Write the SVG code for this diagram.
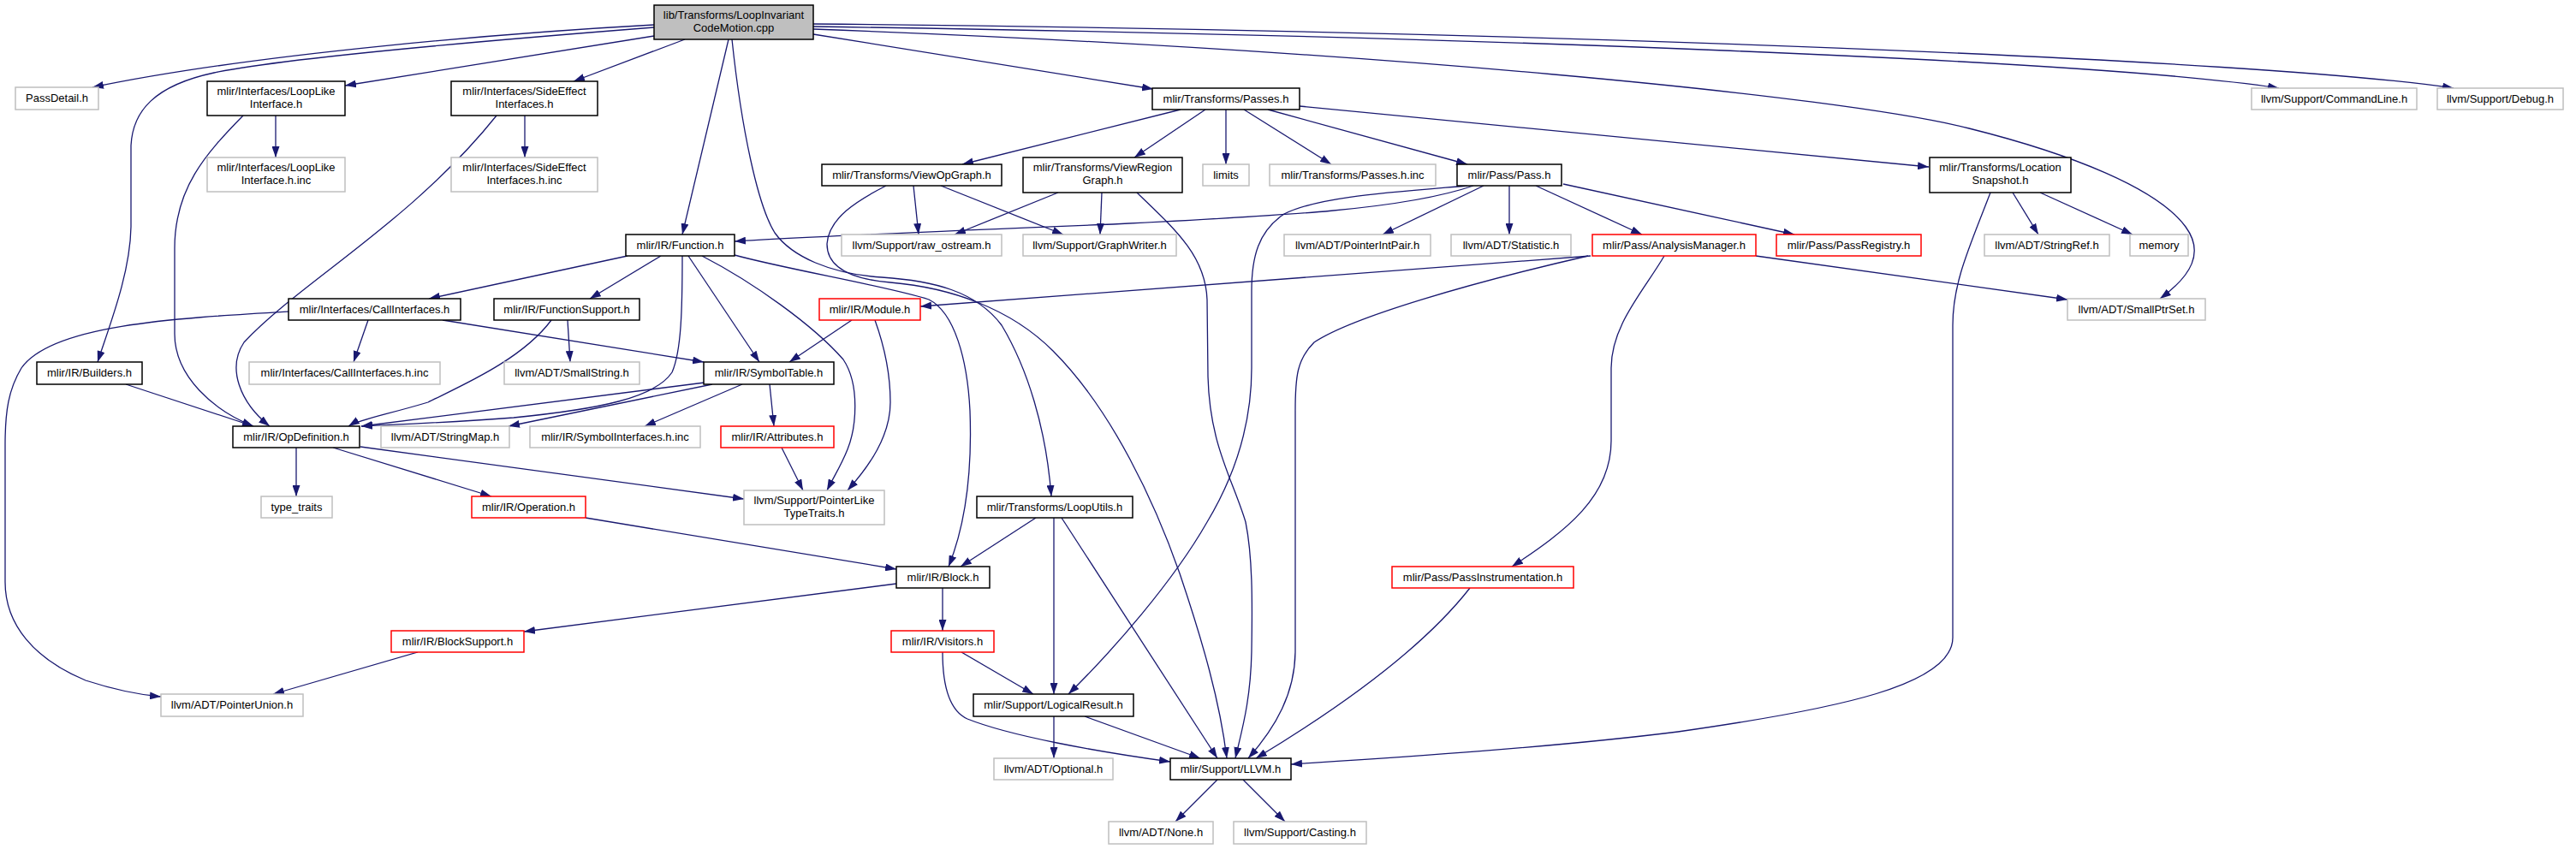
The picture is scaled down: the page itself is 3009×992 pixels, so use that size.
<svg xmlns="http://www.w3.org/2000/svg" width="3009" height="992" viewBox="0 0 3009 992">
<style>
rect.n{fill:#fff;stroke:#000;stroke-width:1.5}
rect.g{fill:#fff;stroke:#bfbfbf;stroke-width:1.5}
rect.r{fill:#fff;stroke:#ff0000;stroke-width:1.5}
rect.root{fill:#bfbfbf;stroke:#000;stroke-width:1.5}
text{font-family:"Liberation Sans",Arial,Helvetica,sans-serif;font-size:13px;fill:#000;text-anchor:middle}
#edges path{fill:none;stroke:#191970;stroke-width:1.3;marker-end:url(#ah)}
</style>
<defs>
<marker id="ah" markerUnits="userSpaceOnUse" markerWidth="13" markerHeight="9" refX="13" refY="4.5" orient="auto">
<path d="M0,0 L13,4.5 L0,9 z" fill="#191970"/>
</marker>
</defs>
<rect x="0" y="0" width="3009" height="992" fill="#fff"/>
<g id="edges">
<path d="M764,29 C600,38 300,62 108,102"/>
<path d="M764,32 C560,48 330,68 250,85 C180,100 155,130 153,170 L153,265 C152,320 128,380 114,423"/>
<path d="M764,42 L403,100"/>
<path d="M800,46 L670,95"/>
<path d="M851,46 L797,274"/>
<path d="M855,46 C866,150 885,240 905,272 C925,300 970,320 1030,324 C1090,328 1140,340 1170,380 C1200,430 1222,500 1228,580"/>
<path d="M950,40 L1347,104"/>
<path d="M950,31 C1700,42 2450,70 2662,103"/>
<path d="M950,28 C1800,36 2650,70 2866,103"/>
<path d="M950,34 C1600,58 2150,112 2300,150 C2420,180 2520,220 2553,265 C2575,295 2560,322 2523,349"/>
<path d="M1379,128 L1124,192"/>
<path d="M1408,128 L1325,184"/>
<path d="M1432,128 L1432,192"/>
<path d="M1453,128 L1555,192"/>
<path d="M1481,128 L1714,192"/>
<path d="M1518,124 L2253,195"/>
<path d="M1067,217 L1073,274"/>
<path d="M1099,217 L1242,274"/>
<path d="M1035,217 C1000,235 968,255 966,285 C966,312 992,326 1040,330 C1110,336 1180,360 1230,410 C1300,480 1350,590 1378,670 C1405,750 1425,820 1433,886"/>
<path d="M1236,225 L1115,274"/>
<path d="M1287,225 L1285,274"/>
<path d="M1328,225 C1375,270 1408,300 1410,350 L1411,440 C1413,520 1440,560 1455,610 C1463,650 1463,700 1462,760 C1461,820 1450,855 1443,886"/>
<path d="M1721,217 C1640,245 1500,252 1300,262 C1100,270 950,276 858,282"/>
<path d="M1714,217 C1620,225 1540,230 1500,250 C1470,270 1462,300 1462,340 L1462,430 C1462,500 1440,560 1410,610 C1370,680 1300,760 1248,811"/>
<path d="M1733,217 L1615,274"/>
<path d="M1763,217 L1763,274"/>
<path d="M1794,217 L1918,274"/>
<path d="M1826,215 L2096,274"/>
<path d="M2325,225 C2300,290 2281,330 2281,380 L2281,745 C2281,800 2150,828 1960,855 C1800,875 1600,887 1508,893"/>
<path d="M2351,225 L2381,274"/>
<path d="M2383,225 L2491,274"/>
<path d="M1858,299 L1075,358"/>
<path d="M1855,299 C1720,330 1580,370 1535,400 C1515,420 1513,440 1513,480 L1513,760 C1513,810 1490,850 1458,886"/>
<path d="M1944,299 C1920,340 1882,380 1882,430 L1882,515 C1882,580 1830,620 1766,662"/>
<path d="M2051,299 L2415,350"/>
<path d="M733,299 L501,349"/>
<path d="M772,299 L689,349"/>
<path d="M804,299 L887,423"/>
<path d="M797,299 C797,360 796,410 785,435 C765,465 700,478 600,488 C520,494 460,496 422,498"/>
<path d="M820,299 C880,330 950,380 985,420 C1005,450 1000,500 990,525 C982,545 975,555 966,573"/>
<path d="M858,298 C920,315 1040,335 1085,350 C1115,365 1130,420 1133,480 C1136,560 1125,620 1108,662"/>
<path d="M430,374 L413,423"/>
<path d="M517,374 L822,423"/>
<path d="M337,364 C200,372 60,380 25,430 C10,455 6,480 6,520 L6,680 C6,730 40,770 100,795 C140,808 165,812 188,814"/>
<path d="M644,374 C610,420 540,450 500,470 C450,485 420,490 407,498"/>
<path d="M663,374 L666,423"/>
<path d="M995,374 L922,423"/>
<path d="M1022,374 C1035,410 1040,440 1040,470 C1040,510 1015,545 990,573"/>
<path d="M322,135 L322,184"/>
<path d="M284,135 C240,180 204,220 204,290 L204,390 C204,440 250,480 296,498"/>
<path d="M613,135 L613,184"/>
<path d="M580,135 C480,260 350,330 285,400 C265,430 280,470 315,498"/>
<path d="M147,449 L296,498"/>
<path d="M823,447 L422,498"/>
<path d="M832,449 L594,498"/>
<path d="M867,449 L753,498"/>
<path d="M899,449 L904,498"/>
<path d="M913,523 L938,573"/>
<path d="M346,523 L346,580"/>
<path d="M389,523 L574,580"/>
<path d="M421,522 L869,583"/>
<path d="M684,605 L1047,665"/>
<path d="M1047,682 L612,738"/>
<path d="M1101,687 L1101,737"/>
<path d="M488,762 L319,811"/>
<path d="M1210,605 L1122,662"/>
<path d="M1231,605 L1231,811"/>
<path d="M1240,605 L1422,886"/>
<path d="M1123,762 L1207,811"/>
<path d="M1101,762 C1101,800 1108,830 1130,840 C1180,860 1280,878 1367,890"/>
<path d="M1231,837 L1231,886"/>
<path d="M1267,837 L1402,886"/>
<path d="M1717,687 C1660,760 1560,830 1467,886"/>
<path d="M1422,911 L1373,960"/>
<path d="M1452,911 L1501,960"/>
</g>
<g id="n_root"><rect class="root" x="764" y="6" width="186" height="40"/><text x="857" y="21.5">lib/Transforms/LoopInvariant</text><text x="857" y="37">CodeMotion.cpp</text></g>
<g id="n_passdetail"><rect class="g" x="18" y="102" width="97" height="26"/><text x="66.5" y="119">PassDetail.h</text></g>
<g id="n_looplike"><rect class="n" x="242" y="95" width="161" height="40"/><text x="322.5" y="110.5">mlir/Interfaces/LoopLike</text><text x="322.5" y="126">Interface.h</text></g>
<g id="n_sideeffect"><rect class="n" x="527" y="95" width="171" height="40"/><text x="612.5" y="110.5">mlir/Interfaces/SideEffect</text><text x="612.5" y="126">Interfaces.h</text></g>
<g id="n_passes"><rect class="n" x="1346" y="103" width="172" height="25"/><text x="1432" y="119.5">mlir/Transforms/Passes.h</text></g>
<g id="n_commandline"><rect class="g" x="2630" y="103" width="193" height="25"/><text x="2726.5" y="119.5">llvm/Support/CommandLine.h</text></g>
<g id="n_debug"><rect class="g" x="2847" y="103" width="147" height="25"/><text x="2920.5" y="119.5">llvm/Support/Debug.h</text></g>
<g id="n_looplikeinc"><rect class="g" x="242" y="184" width="161" height="40"/><text x="322.5" y="199.5">mlir/Interfaces/LoopLike</text><text x="322.5" y="215">Interface.h.inc</text></g>
<g id="n_sideeffectinc"><rect class="g" x="527" y="184" width="171" height="40"/><text x="612.5" y="199.5">mlir/Interfaces/SideEffect</text><text x="612.5" y="215">Interfaces.h.inc</text></g>
<g id="n_viewopgraph"><rect class="n" x="960" y="192" width="210" height="25"/><text x="1065" y="208.5">mlir/Transforms/ViewOpGraph.h</text></g>
<g id="n_viewregiongraph"><rect class="n" x="1195" y="184" width="186" height="41"/><text x="1288" y="199.5">mlir/Transforms/ViewRegion</text><text x="1288" y="215">Graph.h</text></g>
<g id="n_limits"><rect class="g" x="1405" y="192" width="54" height="25"/><text x="1432" y="208.5">limits</text></g>
<g id="n_passesinc"><rect class="g" x="1483" y="192" width="194" height="25"/><text x="1580" y="208.5">mlir/Transforms/Passes.h.inc</text></g>
<g id="n_pass"><rect class="n" x="1702" y="192" width="122" height="25"/><text x="1763" y="208.5">mlir/Pass/Pass.h</text></g>
<g id="n_locationsnapshot"><rect class="n" x="2254" y="184" width="165" height="41"/><text x="2336.5" y="199.5">mlir/Transforms/Location</text><text x="2336.5" y="215">Snapshot.h</text></g>
<g id="n_function"><rect class="n" x="731" y="274" width="127" height="25"/><text x="794.5" y="290.5">mlir/IR/Function.h</text></g>
<g id="n_rawostream"><rect class="g" x="983" y="274" width="187" height="25"/><text x="1076.5" y="290.5">llvm/Support/raw_ostream.h</text></g>
<g id="n_graphwriter"><rect class="g" x="1195" y="274" width="179" height="25"/><text x="1284.5" y="290.5">llvm/Support/GraphWriter.h</text></g>
<g id="n_pointerintpair"><rect class="g" x="1500" y="274" width="171" height="25"/><text x="1585.5" y="290.5">llvm/ADT/PointerIntPair.h</text></g>
<g id="n_statistic"><rect class="g" x="1695" y="274" width="140" height="25"/><text x="1765" y="290.5">llvm/ADT/Statistic.h</text></g>
<g id="n_analysismanager"><rect class="r" x="1860" y="274" width="191" height="25"/><text x="1955.5" y="290.5">mlir/Pass/AnalysisManager.h</text></g>
<g id="n_passregistry"><rect class="r" x="2075" y="274" width="169" height="25"/><text x="2159.5" y="290.5">mlir/Pass/PassRegistry.h</text></g>
<g id="n_stringref"><rect class="g" x="2318" y="274" width="146" height="25"/><text x="2391" y="290.5">llvm/ADT/StringRef.h</text></g>
<g id="n_memory"><rect class="g" x="2488" y="274" width="68" height="25"/><text x="2522" y="290.5">memory</text></g>
<g id="n_callinterfaces"><rect class="n" x="337" y="349" width="201" height="25"/><text x="437.5" y="365.5">mlir/Interfaces/CallInterfaces.h</text></g>
<g id="n_functionsupport"><rect class="n" x="577" y="349" width="170" height="25"/><text x="662" y="365.5">mlir/IR/FunctionSupport.h</text></g>
<g id="n_module"><rect class="r" x="957" y="349" width="118" height="25"/><text x="1016" y="365.5">mlir/IR/Module.h</text></g>
<g id="n_smallptrset"><rect class="g" x="2415" y="349" width="161" height="25"/><text x="2495.5" y="365.5">llvm/ADT/SmallPtrSet.h</text></g>
<g id="n_builders"><rect class="n" x="43" y="423" width="123" height="26"/><text x="104.5" y="440">mlir/IR/Builders.h</text></g>
<g id="n_callinterfacesinc"><rect class="g" x="291" y="423" width="223" height="26"/><text x="402.5" y="440">mlir/Interfaces/CallInterfaces.h.inc</text></g>
<g id="n_smallstring"><rect class="g" x="589" y="423" width="158" height="26"/><text x="668" y="440">llvm/ADT/SmallString.h</text></g>
<g id="n_symboltable"><rect class="n" x="822" y="423" width="152" height="26"/><text x="898" y="440">mlir/IR/SymbolTable.h</text></g>
<g id="n_opdefinition"><rect class="n" x="272" y="498" width="148" height="25"/><text x="346" y="514.5">mlir/IR/OpDefinition.h</text></g>
<g id="n_stringmap"><rect class="g" x="445" y="498" width="150" height="25"/><text x="520" y="514.5">llvm/ADT/StringMap.h</text></g>
<g id="n_symbolinterfacesinc"><rect class="g" x="619" y="498" width="199" height="25"/><text x="718.5" y="514.5">mlir/IR/SymbolInterfaces.h.inc</text></g>
<g id="n_attributes"><rect class="r" x="842" y="498" width="132" height="25"/><text x="908" y="514.5">mlir/IR/Attributes.h</text></g>
<g id="n_typetraits"><rect class="g" x="305" y="580" width="83" height="25"/><text x="346.5" y="596.5">type_traits</text></g>
<g id="n_operation"><rect class="r" x="551" y="580" width="133" height="25"/><text x="617.5" y="596.5">mlir/IR/Operation.h</text></g>
<g id="n_pointerlike"><rect class="g" x="869" y="573" width="164" height="40"/><text x="951" y="588.5">llvm/Support/PointerLike</text><text x="951" y="604">TypeTraits.h</text></g>
<g id="n_looputils"><rect class="n" x="1141" y="580" width="182" height="25"/><text x="1232" y="596.5">mlir/Transforms/LoopUtils.h</text></g>
<g id="n_block"><rect class="n" x="1047" y="662" width="109" height="25"/><text x="1101.5" y="678.5">mlir/IR/Block.h</text></g>
<g id="n_passinstrumentation"><rect class="r" x="1626" y="662" width="212" height="25"/><text x="1732" y="678.5">mlir/Pass/PassInstrumentation.h</text></g>
<g id="n_blocksupport"><rect class="r" x="457" y="737" width="155" height="25"/><text x="534.5" y="753.5">mlir/IR/BlockSupport.h</text></g>
<g id="n_visitors"><rect class="r" x="1041" y="737" width="120" height="25"/><text x="1101" y="753.5">mlir/IR/Visitors.h</text></g>
<g id="n_pointerunion"><rect class="g" x="188" y="811" width="166" height="26"/><text x="271" y="828">llvm/ADT/PointerUnion.h</text></g>
<g id="n_logicalresult"><rect class="n" x="1137" y="811" width="187" height="26"/><text x="1230.5" y="828">mlir/Support/LogicalResult.h</text></g>
<g id="n_optional"><rect class="g" x="1161" y="886" width="139" height="25"/><text x="1230.5" y="902.5">llvm/ADT/Optional.h</text></g>
<g id="n_llvm"><rect class="n" x="1367" y="886" width="141" height="25"/><text x="1437.5" y="902.5">mlir/Support/LLVM.h</text></g>
<g id="n_none"><rect class="g" x="1295" y="960" width="122" height="26"/><text x="1356" y="977">llvm/ADT/None.h</text></g>
<g id="n_casting"><rect class="g" x="1441" y="960" width="155" height="26"/><text x="1518.5" y="977">llvm/Support/Casting.h</text></g>
</svg>
